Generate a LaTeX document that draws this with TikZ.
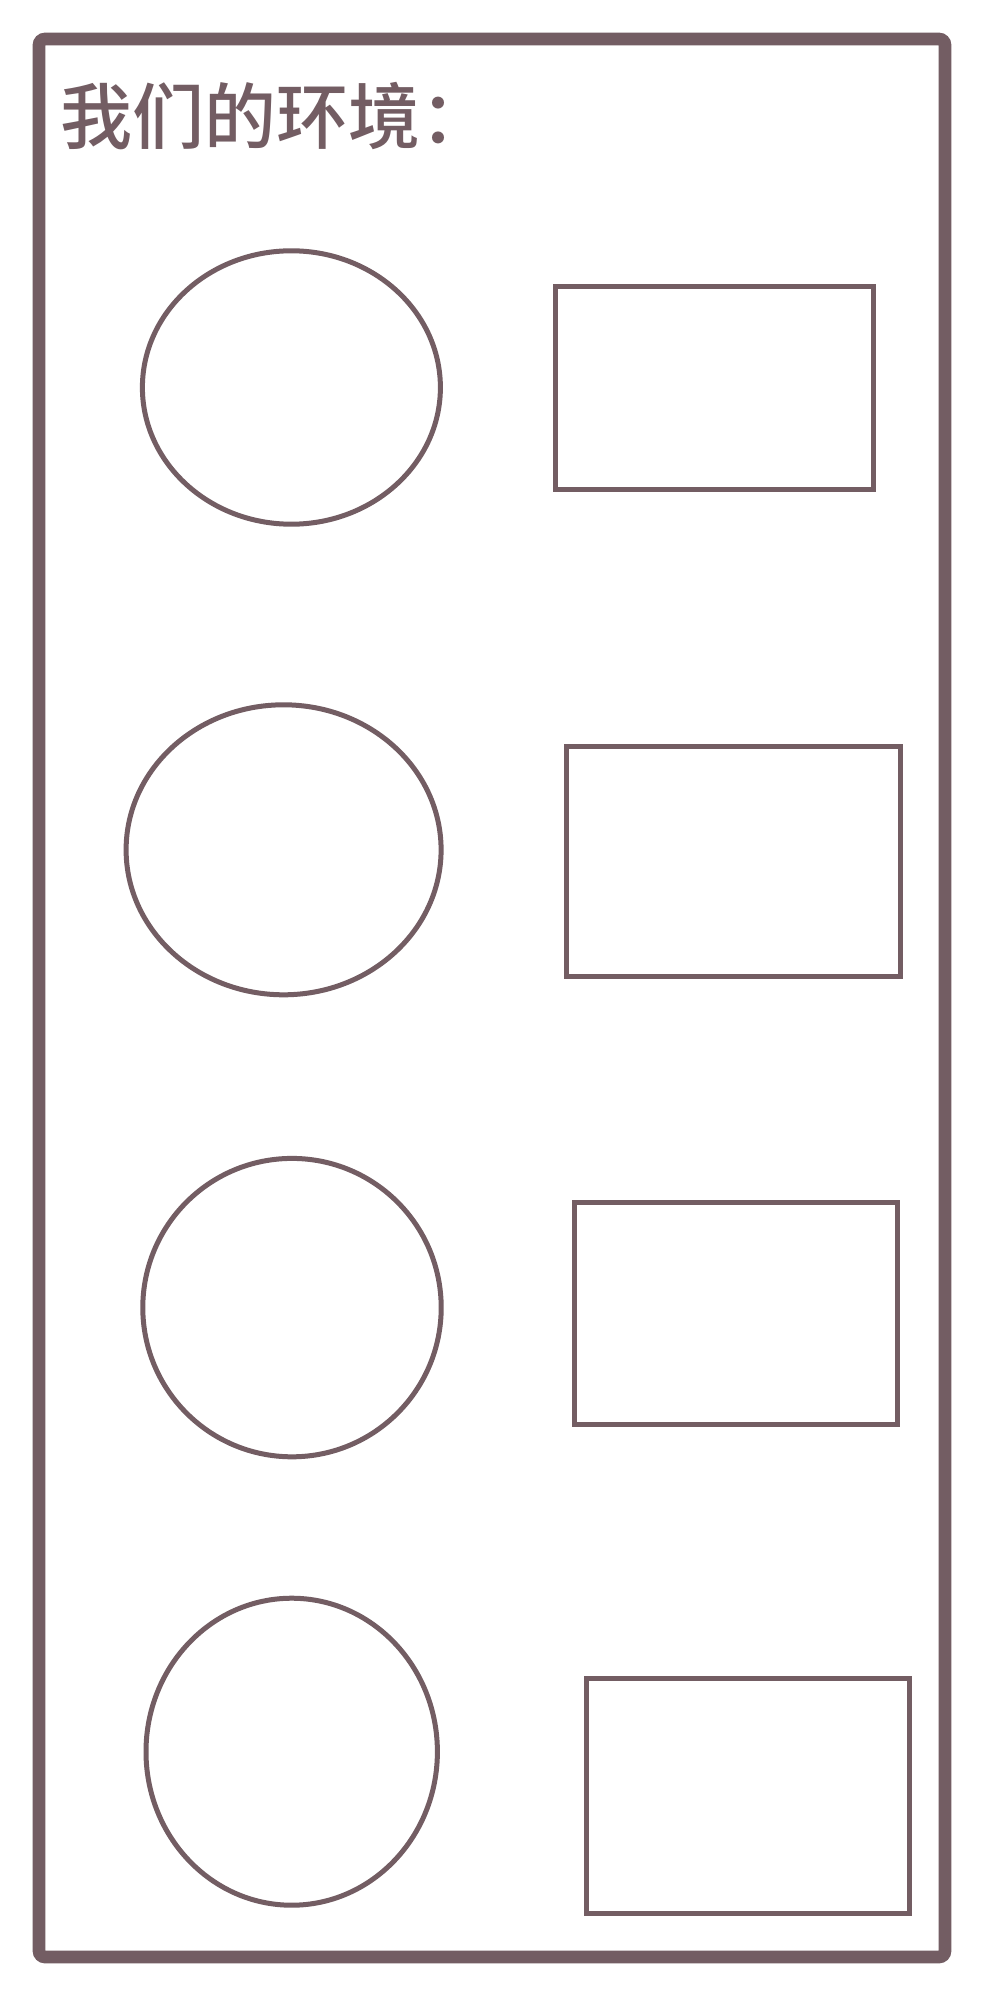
\documentclass[tikz,border=0pt]{standalone}
\usepackage{fontspec}
\newfontfamily\cjk{Noto Sans CJK SC Medium}
\usetikzlibrary{shapes.geometric}
\definecolor{ink}{RGB}{115,93,99}
\begin{document}
\begin{tikzpicture}[x=0.5pt,y=-0.5pt,
  frame/.style={draw=ink,line width=6.3pt,rounded corners=3pt},
  oval/.style={draw=ink,line width=2.5pt,ellipse,inner sep=0pt},
  panel/.style={draw=ink,line width=2.5pt,rectangle,inner sep=0pt},
  title/.style={text=ink,font=\cjk\fontsize{36pt}{40pt}\selectfont,inner sep=0pt,anchor=base west}]
\fill[white] (0,0) rectangle (1000,2000);
\useasboundingbox (0,0) rectangle (1000,2000);
\draw[frame] (39,39) rectangle (945,1957);
\node[title] (t) at (60,144) {我们的环境：};
\node[oval,minimum width=149pt,minimum height=136.7pt] (e1) at (291.4,387.5) {};
\node[oval,minimum width=157.5pt,minimum height=145pt] (e2) at (283.6,849.8) {};
\node[oval,minimum width=149.2pt,minimum height=149.2pt] (e3) at (292,1307.6) {};
\node[oval,minimum width=145.7pt,minimum height=153.5pt] (e4) at (291.7,1751.7) {};
\node[panel,minimum width=159pt,minimum height=101.4pt] (r1) at (714,387.9) {};
\node[panel,minimum width=167.2pt,minimum height=115.2pt] (r2) at (733.6,861.6) {};
\node[panel,minimum width=161.5pt,minimum height=111.2pt] (r3) at (736.2,1313.6) {};
\node[panel,minimum width=161.4pt,minimum height=117.4pt] (r4) at (747.6,1795.8) {};
\end{tikzpicture}
\end{document}
